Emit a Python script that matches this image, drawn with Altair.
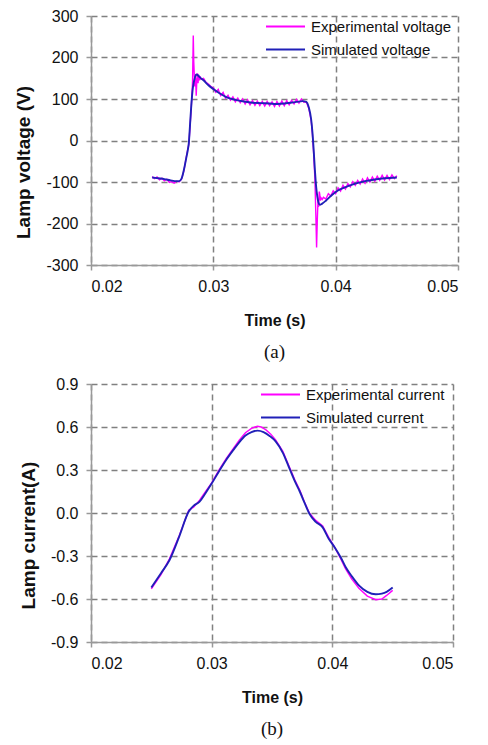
import altair as alt
import pandas as pd

# ---------------- data ----------------
ts_v = [0.0250, 0.0255, 0.0260, 0.0265, 0.0270, 0.0272, 0.0274, 0.0276, 0.0278, 0.0279,
        0.0280, 0.0281, 0.0282, 0.0283, 0.0284, 0.0285, 0.0286, 0.0287, 0.0289, 0.0292,
        0.0296, 0.0300, 0.0305, 0.0311, 0.0318, 0.0325, 0.0332, 0.0339, 0.0346, 0.0352,
        0.0358, 0.0363, 0.0368, 0.0373, 0.0376, 0.0378, 0.0380, 0.0381, 0.0382, 0.0383,
        0.0384, 0.0385, 0.0386, 0.0387, 0.0389, 0.0392, 0.0396, 0.0400, 0.0405, 0.0410,
        0.0416, 0.0424, 0.0432, 0.0440, 0.0450]
sim_v = [-89, -91, -93, -96, -98, -98, -92, -70, -40, -25,
         -5, 40, 85, 120, 140, 152, 159, 158, 152, 145,
         133, 124, 114, 104, 98, 94, 91, 90, 89, 88,
         89, 91, 93, 95, 93, 80, 50, 20, -22, -70,
         -110, -135, -150, -155, -152, -145, -134, -124, -116, -110,
         -104, -98, -94, -91, -89]

te_v = [0.0250, 0.0252, 0.0254, 0.0256, 0.0258, 0.0260, 0.0262, 0.0264, 0.0266, 0.0268,
        0.0270, 0.0272, 0.0274, 0.0276, 0.0278, 0.0280, 0.0281, 0.0282, 0.0283, 0.02836,
        0.0284, 0.02848, 0.02855, 0.0286, 0.02866, 0.0287, 0.02875, 0.0288, 0.02887, 0.0289,
        0.0290, 0.0292, 0.0294, 0.0296, 0.0298, 0.0300, 0.0302, 0.0304, 0.0306, 0.0308,
        0.0310, 0.0312, 0.0314, 0.0316, 0.0318, 0.0320, 0.0322, 0.0324, 0.0326, 0.0328,
        0.0330, 0.0332, 0.0334, 0.0336, 0.0338, 0.0340, 0.0342, 0.0344, 0.0346, 0.0348,
        0.0350, 0.0352, 0.0354, 0.0356, 0.0358, 0.0360, 0.0362, 0.0364, 0.0366, 0.0368,
        0.0370, 0.0372, 0.0374, 0.0376, 0.0378, 0.0380, 0.0381, 0.0382, 0.0383, 0.03838,
        0.03844, 0.0385, 0.03856, 0.0386, 0.03866, 0.0387, 0.03875, 0.0388, 0.0389, 0.0390,
        0.0392, 0.0394, 0.0396, 0.0398, 0.0400, 0.0402, 0.0404, 0.0406, 0.0408, 0.0410,
        0.0412, 0.0414, 0.0416, 0.0418, 0.0420, 0.0422, 0.0424, 0.0426, 0.0428, 0.0430,
        0.0432, 0.0434, 0.0436, 0.0438, 0.0440, 0.0442, 0.0444, 0.0446, 0.0448, 0.0450]
exp_v = [-87, -92, -88, -95, -91, -97, -93, -101, -99, -103,
         -98, -100, -93, -72, -38, -8, 35, 80, 140, 253,
         190, 130, 150, 108, 150, 162, 138, 158, 145, 155,
         148, 150, 140, 136, 130, 127, 116, 123, 108, 116,
         102, 109, 97, 105, 93, 102, 91, 100, 88, 98,
         86, 96, 85, 95, 84, 94, 83, 94, 84, 93,
         82, 94, 83, 95, 84, 96, 86, 97, 88, 99,
         90, 100, 92, 93, 78, 48, 15, -30, -90, -180,
         -258, -190, -140, -160, -123, -130, -145, -138, -142, -137,
         -141, -128, -134, -121, -128, -114, -122, -108, -117, -104,
         -112, -99, -108, -96, -105, -93, -103, -90, -100, -88,
         -98, -86, -96, -84, -95, -84, -94, -83, -92, -85]

ts_i = [0.0250, 0.0258, 0.0265, 0.0273, 0.0281, 0.0285, 0.0290, 0.0295, 0.0300, 0.0306,
        0.0312, 0.0318, 0.0323, 0.0328, 0.0333, 0.0338, 0.0343, 0.0348, 0.0353, 0.0359,
        0.0364, 0.0369, 0.0373, 0.0377, 0.0381, 0.0386, 0.0392, 0.0397, 0.0402, 0.0407,
        0.0411, 0.0416, 0.0422, 0.0429, 0.0436, 0.0441, 0.0445, 0.0450]
sim_i = [-0.52, -0.42, -0.33, -0.167, 0.01, 0.05, 0.08, 0.14, 0.205, 0.29,
         0.37, 0.44, 0.495, 0.54, 0.565, 0.575, 0.565, 0.538, 0.50, 0.42,
         0.32, 0.22, 0.15, 0.07, -0.005, -0.06, -0.10, -0.18, -0.24, -0.31,
         -0.377, -0.44, -0.505, -0.55, -0.567, -0.562, -0.55, -0.52]

te_i = [0.0250, 0.0258, 0.0265, 0.0273, 0.0281, 0.0285, 0.0290, 0.0295, 0.0300, 0.0306,
        0.0312, 0.0318, 0.0323, 0.0328, 0.0333, 0.0336, 0.0338, 0.0341, 0.0345, 0.0349,
        0.0353, 0.0359, 0.0364, 0.0369, 0.0373, 0.0377, 0.0381, 0.0386, 0.0392, 0.0397,
        0.0402, 0.0407, 0.0411, 0.0416, 0.0422, 0.0429, 0.0436, 0.0441, 0.0445, 0.0450]
exp_i = [-0.53, -0.43, -0.32, -0.16, 0.02, 0.04, 0.09, 0.15, 0.21, 0.30,
         0.38, 0.45, 0.51, 0.56, 0.59, 0.60, 0.605, 0.60, 0.58, 0.55,
         0.51, 0.43, 0.33, 0.23, 0.16, 0.075, 0.0, -0.05, -0.09, -0.17,
         -0.24, -0.32, -0.39, -0.46, -0.525, -0.58, -0.605, -0.60, -0.575, -0.54]

x_ticks = [0.02, 0.03, 0.04, 0.05]
v_ticks = [-300, -200, -100, 0, 100, 200, 300]
i_ticks = [-0.9, -0.6, -0.3, 0.0, 0.3, 0.6, 0.9]

MAGENTA = "#ff00ff"
BLUE = "#2020b8"
GRID = "#808080"
SANS = "Liberation Sans"
SERIF = "Liberation Serif"


def panel(t_exp, v_exp, t_sim, v_sim, names, ytitle, ydom, yticks, yfmt,
          caption, w, h, title_y):
    d_exp = pd.DataFrame({"t": t_exp, "v": v_exp, "s": names[0]})
    d_sim = pd.DataFrame({"t": t_sim, "v": v_sim, "s": names[1]})
    x = alt.X("t:Q", scale=alt.Scale(domain=[0.02, 0.05]),
              axis=alt.Axis(values=x_ticks, format=".2f", title="Time (s)"))
    y = alt.Y("v:Q", scale=alt.Scale(domain=ydom),
              axis=alt.Axis(values=yticks, format=yfmt, title=ytitle,
                            labelExpr="replace(datum.label, '\u2212', '-')",
                            titleY=title_y, titleFontSize=19))
    color = alt.Color("s:N",
                      scale=alt.Scale(domain=names, range=[MAGENTA, BLUE]),
                      legend=alt.Legend(title=None, orient="none",
                                        legendX=w - 193, legendY=-1,
                                        symbolType="stroke", symbolSize=1521,
                                        symbolStrokeWidth=2, clipHeight=23,
                                        labelFont=SANS, labelFontSize=15,
                                        labelColor="#111", labelOffset=5,
                                        rowPadding=0, padding=0))
    l1 = alt.Chart(d_exp).mark_line(strokeWidth=1.4).encode(x=x, y=y, color=color)
    l2 = alt.Chart(d_sim).mark_line(strokeWidth=1.9, interpolate="monotone").encode(
        x=x, y=y, color=color)
    return alt.layer(l1, l2).properties(
        width=w, height=h,
        title=alt.TitleParams(caption, orient="bottom", font=SERIF,
                              fontSize=19, fontWeight="normal", color="#111",
                              offset=15))


top = panel(te_v, exp_v, ts_v, sim_v,
            ["Experimental voltage", "Simulated voltage"],
            "Lamp voltage (V)", [-300, 300], v_ticks, "d", "(a)", 367, 249, 146)
bot = panel(te_i, exp_i, ts_i, sim_i,
            ["Experimental current", "Simulated current"],
            "Lamp current(A)", [-0.9, 0.9], i_ticks, ".1f", "(b)", 362, 258, 151)

chart = alt.vconcat(top, bot, spacing=14).resolve_scale(
    color="independent"
).resolve_legend(color="independent").properties(
    padding={"left": 6, "top": 0, "right": 5, "bottom": 0}
).configure_view(stroke=None).configure_axis(
    labelFont=SANS, labelFontSize=16, labelColor="#111",
    titleFont=SANS, titleFontSize=16, titleFontWeight="bold", titleColor="#111",
    domainColor="#999999", domainWidth=1.5,
    tickColor="#999999", tickWidth=1.5, tickSize=5,
    gridColor=GRID, gridDash=[6, 4], gridWidth=1.5,
    labelPadding=8
).configure_axisX(titlePadding=18).configure_axisY(titlePadding=12, labelPadding=8)

chart.save("out.html", embed_options={"renderer": "svg", "actions": False})
